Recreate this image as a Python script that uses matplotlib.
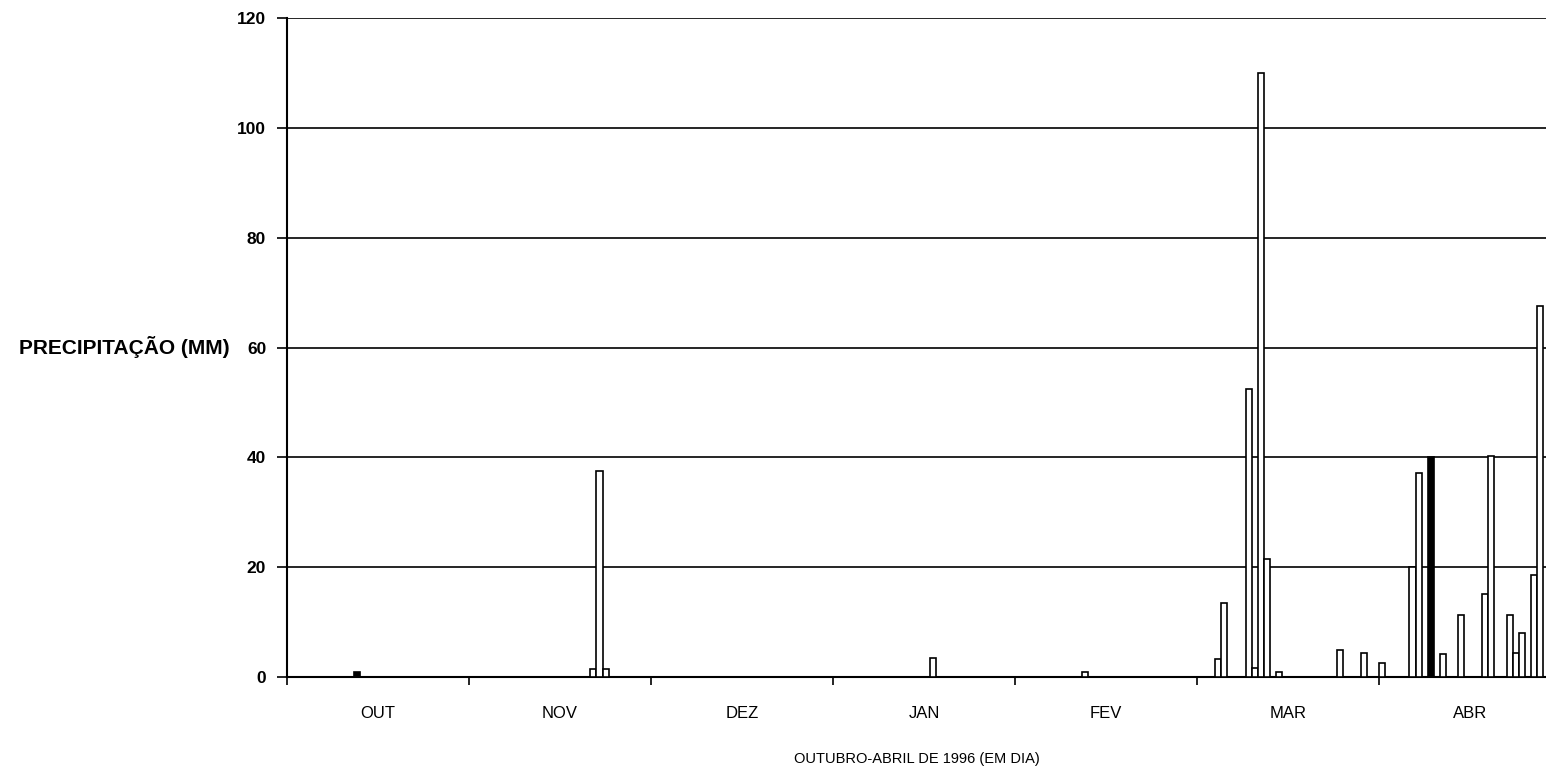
import numpy as np
import matplotlib
matplotlib.use('Agg')
import matplotlib.pyplot as plt

plt.rcParams['font.family'] = ['Liberation Sans', 'DejaVu Sans']

# dias com chuva (indice do dia a partir de 1 de outubro) e precipitacao em mm
dias = [11, 50, 51, 52, 106, 131, 153, 154, 158, 159, 160, 161, 163,
        173, 177, 180, 185, 186, 188, 190, 193, 197, 198, 201, 202, 203, 205, 206]
chuva = [1.0, 1.5, 37.5, 1.5, 3.5, 1.0, 3.3, 13.5, 52.5, 1.6, 110.0, 21.5, 1.0,
         4.9, 4.4, 2.6, 20.1, 37.2, 40.0, 4.2, 11.3, 15.1, 40.3, 11.3, 4.3, 8.0, 18.6, 67.5]
escuros = [11, 188]  # barras que aparecem preenchidas no original

meses = ['OUT', 'NOV', 'DEZ', 'JAN', 'FEV', 'MAR', 'ABR']
y_ticks = [0, 20, 40, 60, 80, 100, 120]

fig = plt.figure(figsize=(15.46, 7.69), dpi=100)
ax = fig.add_axes([287/1546, 1 - 677/769, 1 - 287/1546, (677 - 18)/769])

cores = ['black' if d in escuros else 'white' for d in dias]
ax.bar(dias, chuva, width=1.0, align='edge', color=cores, edgecolor='black', linewidth=1.2, zorder=3)

ax.set_ylim(0, 120)
ax.set_xlim(0, 207.5)
ax.set_yticks(y_ticks)
ax.set_yticklabels([str(v) for v in y_ticks], fontsize=12.5, fontweight='bold')
ax.yaxis.grid(True, color='black', linewidth=1.2, zorder=0)

# marcas nos limites dos meses, rotulos no meio
ax.set_xticks(np.arange(0, 210, 30))
ax.set_xticklabels([])
ax.set_xticks(np.arange(15, 210, 30), minor=True)
ax.set_xticklabels(meses, minor=True, fontsize=12)
ax.tick_params(axis='x', which='minor', length=0, pad=21)
ax.tick_params(axis='x', which='major', length=6, width=1.2, direction='out')
ax.tick_params(axis='y', length=7, width=1.2, direction='out', pad=8)

for s in ['top', 'right']:
    ax.spines[s].set_visible(False)
ax.spines['left'].set_linewidth(1.5)
ax.spines['bottom'].set_linewidth(1.5)

ax.set_ylabel('PRECIPITAÇÃO (MM)', rotation=0, fontsize=15, fontweight='bold',
              ha='right', va='center', labelpad=5)
ax.set_xlabel('OUTUBRO-ABRIL DE 1996 (EM DIA)', fontsize=10.5, labelpad=22)

fig.savefig('out.png', dpi=100)
